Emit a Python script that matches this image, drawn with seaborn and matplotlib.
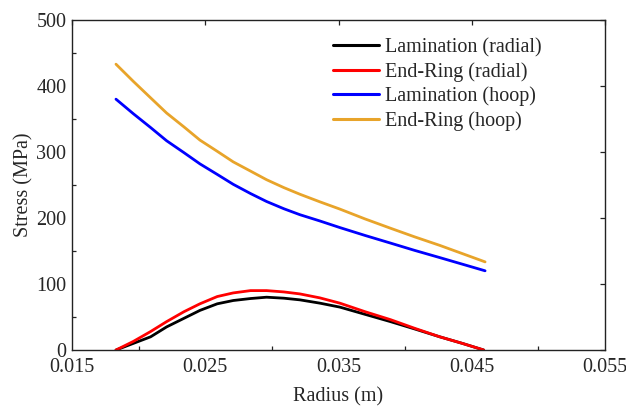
import matplotlib
matplotlib.use("Agg")
import matplotlib.pyplot as plt
import seaborn as sns
import pandas as pd
from matplotlib.ticker import MultipleLocator

radius = [0.0183, 0.0196, 0.0209, 0.0221, 0.0234, 0.0246, 0.0259, 0.0271, 0.0284, 0.0296,
          0.0309, 0.0321, 0.0336, 0.0351, 0.0370, 0.0389, 0.0407, 0.0426, 0.0443, 0.0459]
lam_radial = [0, 10, 20, 35, 48, 60, 70, 75, 78, 80, 78.5, 76, 71, 65, 54, 43, 32, 20, 10, 0]
end_radial = [0, 13, 28, 43, 58, 70, 81, 86.5, 90, 90, 88, 85, 79, 71, 58, 46, 33, 20, 10, 0]
radius_hoop = [0.0183, 0.0196, 0.0209, 0.0221, 0.0234, 0.0246, 0.0259, 0.0271, 0.0284, 0.0296,
               0.0309, 0.0321, 0.0336, 0.0351, 0.0370, 0.0389, 0.0407, 0.0426, 0.0443, 0.0460]
lam_hoop = [380, 358, 337, 317, 299, 282, 266, 251, 237, 225,
            214, 205, 195.5, 185.5, 173.5, 162, 151, 140, 130, 120]
end_hoop = [433, 407, 382, 359, 338, 318, 301, 285, 271, 258,
            246, 236, 224.5, 213.5, 198.5, 184.5, 171.5, 158.5, 146, 133.5]

series_names = ["Lamination (radial)", "End-Ring (radial)", "Lamination (hoop)", "End-Ring (hoop)"]
colors = ["#000000", "#ff0000", "#0000ff", "#e8a42a"]

frames = []
for name, xs, ys in zip(series_names,
                        [radius, radius, radius_hoop, radius_hoop],
                        [lam_radial, end_radial, lam_hoop, end_hoop]):
    frames.append(pd.DataFrame({"Radius": xs, "Stress": ys, "Series": name}))
df = pd.concat(frames, ignore_index=True)

sns.set_style("white")
plt.rcParams["font.family"] = ["Liberation Serif", "DejaVu Serif"]

fig = plt.figure(figsize=(6.26, 4.07), dpi=100)
ax = fig.add_axes([0.115, 0.14, 0.8515, 0.811])

sns.lineplot(data=df, x="Radius", y="Stress", hue="Series", hue_order=series_names,
             palette=dict(zip(series_names, colors)), linewidth=2.0, ax=ax,
             sort=False, estimator=None)

ax.set_xticks([0.015, 0.025, 0.035, 0.045, 0.055])
ax.set_xticklabels(["0.015", "0.025", "0.035", "0.045", "0.055"])
ax.xaxis.set_minor_locator(MultipleLocator(0.005))
ax.yaxis.set_major_locator(MultipleLocator(100))
ax.yaxis.set_minor_locator(MultipleLocator(50))
ax.set_xlim(0.015, 0.055)
ax.set_ylim(0, 500)

ax.tick_params(which="major", direction="in", length=3.5, width=0.9, top=True, right=True,
               labelsize=14.5, color="#222222")
ax.tick_params(axis="x", which="major", pad=6)
ax.tick_params(axis="y", which="major", pad=4)
ax.tick_params(which="minor", direction="in", length=3, width=0.9, top=False, right=False,
               bottom=True, left=True, color="#222222")

for s in ax.spines.values():
    s.set_color("#222222")
    s.set_linewidth(1.0)

ax.set_xlabel("Radius (m)", fontsize=14.5, labelpad=7)
ax.set_ylabel("Stress (MPa)", fontsize=14.5, labelpad=2)

leg = ax.legend(loc="upper left", frameon=False, fontsize=14.5, handlelength=2.3,
                handletextpad=0.25, labelspacing=0.24, borderaxespad=0.0,
                borderpad=0.0, bbox_to_anchor=(0.49, 0.945))
for line in leg.get_lines():
    line.set_linewidth(2.2)

fig.savefig("out.png", dpi=100, facecolor="white")
